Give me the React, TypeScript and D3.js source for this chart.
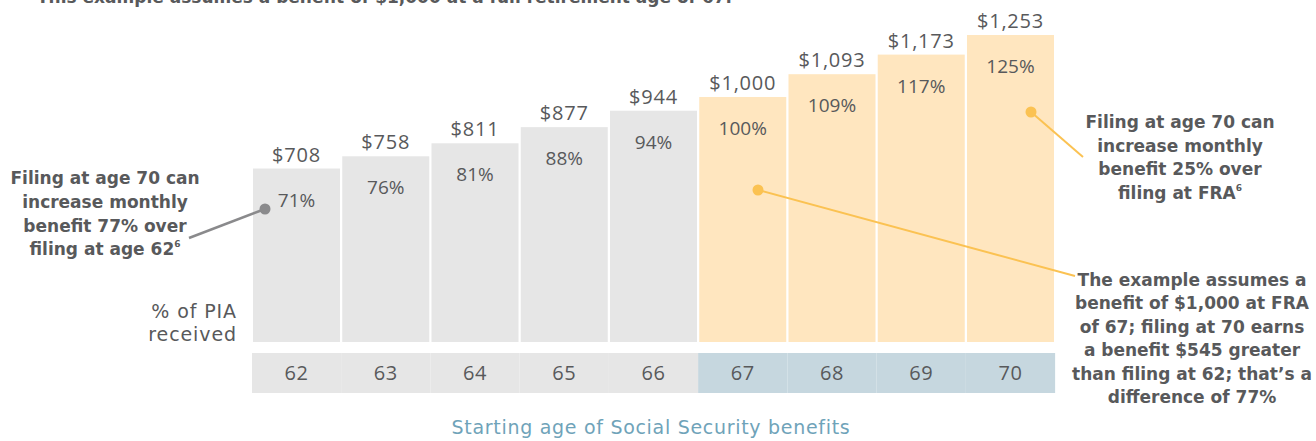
import * as d3 from 'd3';

const AGES = [62, 63, 64, 65, 66, 67, 68, 69, 70];
const BENEFITS = [708, 758, 811, 877, 944, 1000, 1093, 1173, 1253];
const PCT = [71, 76, 81, 88, 94, 100, 109, 117, 125];
const FRA = 67;

const LEFT_NOTE = ['Filing at age 70 can', 'increase monthly', 'benefit 77% over', 'filing at age 62'];
const RIGHT_NOTE = ['Filing at age 70 can', 'increase monthly', 'benefit 25% over', 'filing at FRA'];
const EXAMPLE_NOTE = [
  'The example assumes a',
  'benefit of $1,000 at FRA',
  'of 67; filing at 70 earns',
  'a benefit $545 greater',
  'than filing at 62; that\u2019s a',
  'difference of 77%',
];

const W = 1316;
const H = 441;
const FONT = '"Open Sans", "Noto Sans", sans-serif';
const WIDE = '"DejaVu Sans", "Open Sans", sans-serif';
const TEXT = '#58595b';
const GRAY = '#e6e6e6';
const ORANGE = '#ffe6bf';
const BLUE = '#c6d7df';
const LEADER = '#fbc252';

export default function App() {
  const x = d3.scaleBand<number>().domain(AGES).range([253, 1054]).paddingInner(0.025).paddingOuter(0);
  const y = d3.scaleLinear().domain([0, 1253]).range([342, 35]);
  const step = x.step();
  const gap = step - x.bandwidth();
  const fmt = d3.format('$,');

  const bandTop = 353;
  const bandH = 40;

  const barMid = (a: number) => (x(a) ?? 0) + x.bandwidth() / 2;

  const note = (lines: string[], cx: number, y0: number, dy: number, sup: boolean) =>
    lines.map((t, i) => (
      <text key={t} x={cx} y={y0 + i * dy} textAnchor="middle" fontFamily={WIDE} fontSize={17} fontWeight={700} fill={TEXT}>
        {t}
        {sup && i === lines.length - 1 && <tspan fontSize={9} dy={-8}>6</tspan>}
      </text>
    ));

  return (
    <svg width={W} height={H} style={{ position: 'absolute', left: 0, top: 0, display: 'block' }} fontFamily={FONT}>
      <text x={37} y={3} fontFamily={WIDE} fontSize={17} fontWeight={700} fill={TEXT}>
        This example assumes a benefit of $1,000 at a full retirement age of 67.
      </text>

      {/* bars */}
      {AGES.map((a, i) => (
        <g key={a}>
          <rect
            x={x(a)}
            y={y(BENEFITS[i])}
            width={x.bandwidth()}
            height={y(0) - y(BENEFITS[i])}
            fill={a >= FRA ? ORANGE : GRAY}
          />
          <text x={barMid(a)} y={y(BENEFITS[i]) - 7} textAnchor="middle" fontSize={20} letterSpacing={0.8} fill={TEXT}>
            {fmt(BENEFITS[i])}
          </text>
          <text x={barMid(a)} y={y(BENEFITS[i]) + 38} textAnchor="middle" fontSize={19} fill={TEXT}>
            {PCT[i]}%
          </text>
        </g>
      ))}

      {/* age band */}
      {AGES.map(a => (
        <g key={'band' + a}>
          <rect
            x={Math.max(252, (x(a) ?? 0) - gap / 2)}
            y={bandTop}
            width={step}
            height={bandH}
            fill={a >= FRA ? BLUE : GRAY}
          />
          <text x={barMid(a)} y={bandTop + bandH / 2 + 7} textAnchor="middle" fontSize={20} letterSpacing={0.5} fill={TEXT}>
            {a}
          </text>
        </g>
      ))}

      <text x={237} y={318} textAnchor="end" fontFamily={WIDE} fontSize={19} letterSpacing={0.9} fill={TEXT}>% of PIA</text>
      <text x={237} y={341} textAnchor="end" fontFamily={WIDE} fontSize={19} letterSpacing={0.9} fill={TEXT}>received</text>

      <text x={651} y={434} textAnchor="middle" fontFamily={WIDE} fontSize={19} letterSpacing={0.7} fill="#6fa3b9">
        Starting age of Social Security benefits
      </text>

      {/* left note */}
      <line x1={265} y1={209} x2={189} y2={238} stroke="#8a8a8c" strokeWidth={2.5} />
      <circle cx={265} cy={209} r={5.5} fill="#8a8a8c" />
      {note(LEFT_NOTE, 105, 184, 23.8, true)}

      {/* right note */}
      <line x1={1031} y1={112} x2={1083} y2={157} stroke={LEADER} strokeWidth={2} />
      <circle cx={1031} cy={112} r={5.5} fill={LEADER} />
      {note(RIGHT_NOTE, 1180, 128, 23.5, true)}

      {/* example note */}
      <line x1={758} y1={190} x2={1075} y2={276} stroke={LEADER} strokeWidth={2} />
      <circle cx={758} cy={190} r={5.5} fill={LEADER} />
      {note(EXAMPLE_NOTE, 1192, 286, 23.4, false)}
    </svg>
  );
}
